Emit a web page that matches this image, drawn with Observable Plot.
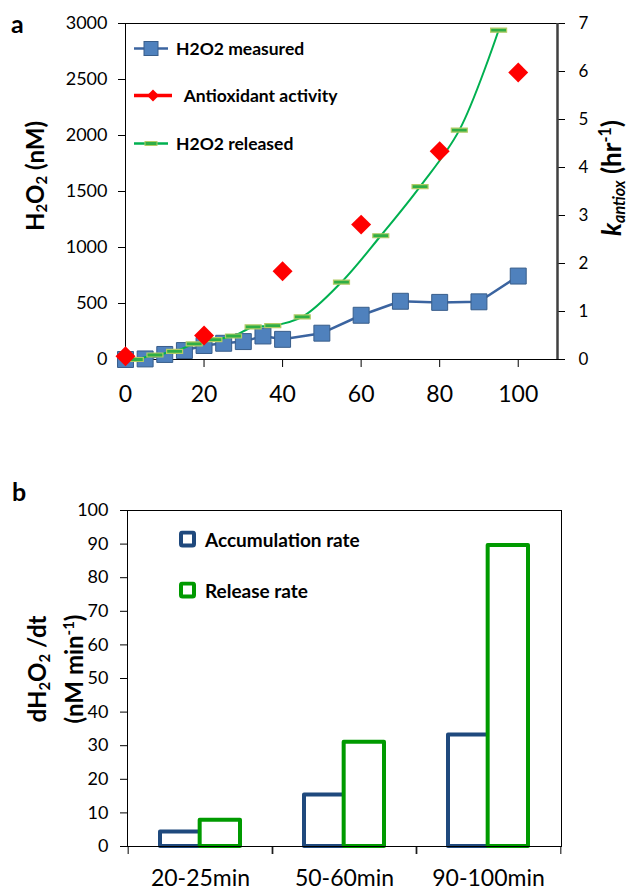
<!DOCTYPE html>
<html><head><meta charset="utf-8">
<script src="https://cdn.jsdelivr.net/npm/d3@7"></script>
<script src="https://cdn.jsdelivr.net/npm/@observablehq/plot@0.6"></script>
<style>
body{margin:0;background:#fff;font-family:Lato,"Open Sans",sans-serif;color:#000;}
#wrap{position:relative;width:629px;height:892px;overflow:hidden;}
.abs{position:absolute;}
.rot{position:absolute;white-space:nowrap;font-weight:bold;transform:translate(-50%,-50%) rotate(-90deg);text-align:center;}
sub,sup{font-size:0.62em;line-height:0;}
sub{vertical-align:-0.25em;}
sup{vertical-align:0.6em;}
.leg{position:absolute;display:flex;align-items:center;font-weight:bold;font-size:17.5px;white-space:nowrap;transform:translateY(-50%);}
.leg svg{margin-right:8px;}
.panel{position:absolute;font-weight:bold;font-size:25px;}
</style></head>
<body><div id="wrap"></div>
<script>
// ---- Panel a data ----
const measTime = [0,5,10,15,20,25,30,35,40,50,60,70,80,90,100];
const measH2O2 = [0,5,45,80,125,145,160,210,180,235,395,520,510,515,745];
const antioxTime = [0,20,40,60,80,100];
const antioxK = [0.07,0.5,1.84,2.81,4.34,5.98];
const relTime = [2.5,7.5,12.5,17.5,22.5,27.5,32.5,37.5,45,55,65,75,85,95];
const relH2O2 = [0,40,73,139,177,210,291,302,380,691,1105,1544,2048,2940];
const xTicksA = [0,20,40,60,80,100];
const yTicksA = [0,500,1000,1500,2000,2500,3000];
const kTicks = [0,1,2,3,4,5,6,7];

// ---- Panel b data ----
const periods = ["20-25min","50-60min","90-100min"];
const accumRate = [4.3,15.3,33.2];
const releaseRate = [7.8,31,89.6];
const yTicksB = [0,10,20,30,40,50,60,70,80,90,100];

const W = 629;
const wrap = document.getElementById("wrap");
const plain = d => String(d);

// ---------- Panel a ----------
const xMaxA = 110, yMaxA = 3000, kMax = 7;
const kToNM = yMaxA / kMax;
const meas = measTime.map((t,i)=>({t, v: measH2O2[i]}));
const anti = antioxTime.map((t,i)=>({t, k: antioxK[i]}));
const rel = relTime.map((t,i)=>({t, v: relH2O2[i]}));
const dash = {draw(ctx){ ctx.moveTo(-8,-2); ctx.lineTo(8,-2); ctx.lineTo(8,2); ctx.lineTo(-8,2); ctx.closePath(); }};

const plotA = Plot.plot({
  width: W, height: 430,
  marginLeft: 125, marginRight: 72, marginTop: 23, marginBottom: 71,
  style: {fontFamily: "Lato, sans-serif", background: "transparent", overflow: "visible", color: "#000"},
  x: {domain: [0, xMaxA]},
  y: {domain: [0, yMaxA]},
  marks: [
    Plot.frame({stroke: "#000", strokeWidth: 1}),
    Plot.axisY(yTicksA, {anchor: "left", tickSize: 7, tickPadding: 11, fontSize: 18, label: null, tickFormat: plain}),
    Plot.axisY(kTicks.map(k => k * kToNM), {anchor: "right", tickSize: 7, tickPadding: 14, fontSize: 17, label: null, tickFormat: d => String(Math.round(d / kToNM))}),
    Plot.axisX(xTicksA, {anchor: "bottom", tickSize: 8, tickPadding: 18, fontSize: 23, label: null, tickFormat: plain}),
    Plot.ruleX([xMaxA], {stroke: "#404040", strokeWidth: 2.5}),
    Plot.line(meas, {x: "t", y: "v", stroke: "#3b64a0", strokeWidth: 2.5}),
    Plot.dot(meas, {x: "t", y: "v", symbol: "square", r: 9, fill: "#4f81bd", stroke: "#385d8a", strokeWidth: 1}),
    Plot.line(rel, {x: "t", y: "v", curve: "catmull-rom", stroke: "#00b050", strokeWidth: 2}),
    Plot.dot(rel, {x: "t", y: "v", symbol: dash, fill: "#2fae45", stroke: "#b3cc66", strokeWidth: 1.2}),
    Plot.dot(anti, {x: "t", y: d => d.k * kToNM, symbol: "diamond2", r: 9, fill: "#ff0000"})
  ]
});
const divA = document.createElement("div");
divA.className = "abs"; divA.style.left = "0px"; divA.style.top = "0px";
divA.appendChild(plotA);
wrap.appendChild(divA);

// ---------- Panel b ----------
const bML = 127, bMR = 68;
const bw = (W - bML - bMR) / periods.length;
const barW = 41, barOff = 32;
const rows = periods.map((p,i)=>({period: p, accum: accumRate[i], release: releaseRate[i]}));
const blueB = "#1f497d", greenB = "#009a00";

const plotB = Plot.plot({
  width: W, height: 412,
  marginLeft: bML, marginRight: bMR, marginTop: 30, marginBottom: 46,
  style: {fontFamily: "Lato, sans-serif", background: "transparent", overflow: "visible", color: "#000"},
  x: {domain: periods, padding: 0},
  y: {domain: [0, 100]},
  marks: [
    Plot.barY(rows, {x: "period", y: "accum", fill: "white", stroke: blueB, strokeWidth: 4, strokeLinejoin: "round", insetLeft: barOff, insetRight: bw - barOff - barW}),
    Plot.barY(rows, {x: "period", y: "release", fill: "white", stroke: greenB, strokeWidth: 4, strokeLinejoin: "round", insetLeft: bw - barOff - barW, insetRight: barOff}),
    Plot.frame({stroke: "#000", strokeWidth: 1}),
    Plot.axisY(yTicksB, {anchor: "left", tickSize: 7, tickPadding: 12, fontSize: 18, label: null, tickFormat: plain}),
    Plot.axisX({anchor: "bottom", tickSize: 0, tickPadding: 23, fontSize: 23, label: null}),
    Plot.axisX({anchor: "bottom", tickSize: 8, tickFormat: () => "", dx: -bw / 2, label: null}),
    Plot.axisX({anchor: "bottom", tickSize: 8, tickFormat: () => "", dx: bw / 2, label: null})
  ]
});
const divB = document.createElement("div");
divB.className = "abs"; divB.style.left = "0px"; divB.style.top = "480px";
divB.appendChild(plotB);
wrap.appendChild(divB);

// ---------- Text & legends ----------
function add(html, cls, x, y, extra) {
  const d = document.createElement("div");
  d.className = cls; d.innerHTML = html;
  d.style.left = x + "px"; d.style.top = y + "px";
  if (extra) Object.assign(d.style, extra);
  wrap.appendChild(d);
  return d;
}
add("a", "panel", 11, 8);
add("b", "panel", 12, 476);
add("H<sub>2</sub>O<sub>2</sub> (nM)", "rot", 34, 176, {fontSize: "24px"});
add("<i>k<sub>antiox</sub></i> (hr<sup>-1</sup>)", "rot", 611, 178, {fontSize: "26px"});
add("dH<sub>2</sub>O<sub>2</sub> /dt<br>(nM min<sup>-1</sup>)", "rot", 55, 669, {fontSize: "24px", lineHeight: "37px"});

const legA = [
  {label: "H2O2 measured", y: 48, svg: `<svg width="34" height="20"><line x1="0" y1="10" x2="34" y2="10" stroke="#3b64a0" stroke-width="2.5"/><rect x="10" y="3" width="14" height="14" fill="#4f81bd" stroke="#385d8a"/></svg>`},
  {label: "&nbsp;Antioxidant activity", y: 95, svg: `<svg width="38" height="20"><line x1="0" y1="10" x2="38" y2="10" stroke="#ff0000" stroke-width="3.5"/><path d="M19 4 L25 10 L19 16 L13 10 Z" fill="#ff0000"/></svg>`},
  {label: "H2O2 released", y: 143, svg: `<svg width="34" height="20"><line x1="0" y1="10" x2="34" y2="10" stroke="#00b050" stroke-width="2.5"/><rect x="11" y="8" width="12" height="4" fill="#2fae45" stroke="#b3cc66"/></svg>`}
];
legA.forEach(l => add(l.svg + "<span>" + l.label + "</span>", "leg", 134, l.y));

const legB = [
  {label: "Accumulation rate", y: 539, c: blueB},
  {label: "Release rate", y: 590, c: greenB}
];
legB.forEach(l => add(`<svg width="18" height="18"><rect x="2" y="2" width="13" height="13" rx="1.5" fill="white" stroke="${l.c}" stroke-width="4"/></svg><span>` + l.label + "</span>", "leg", 179, l.y, {fontSize: "19px"}));
</script>
</body></html>
